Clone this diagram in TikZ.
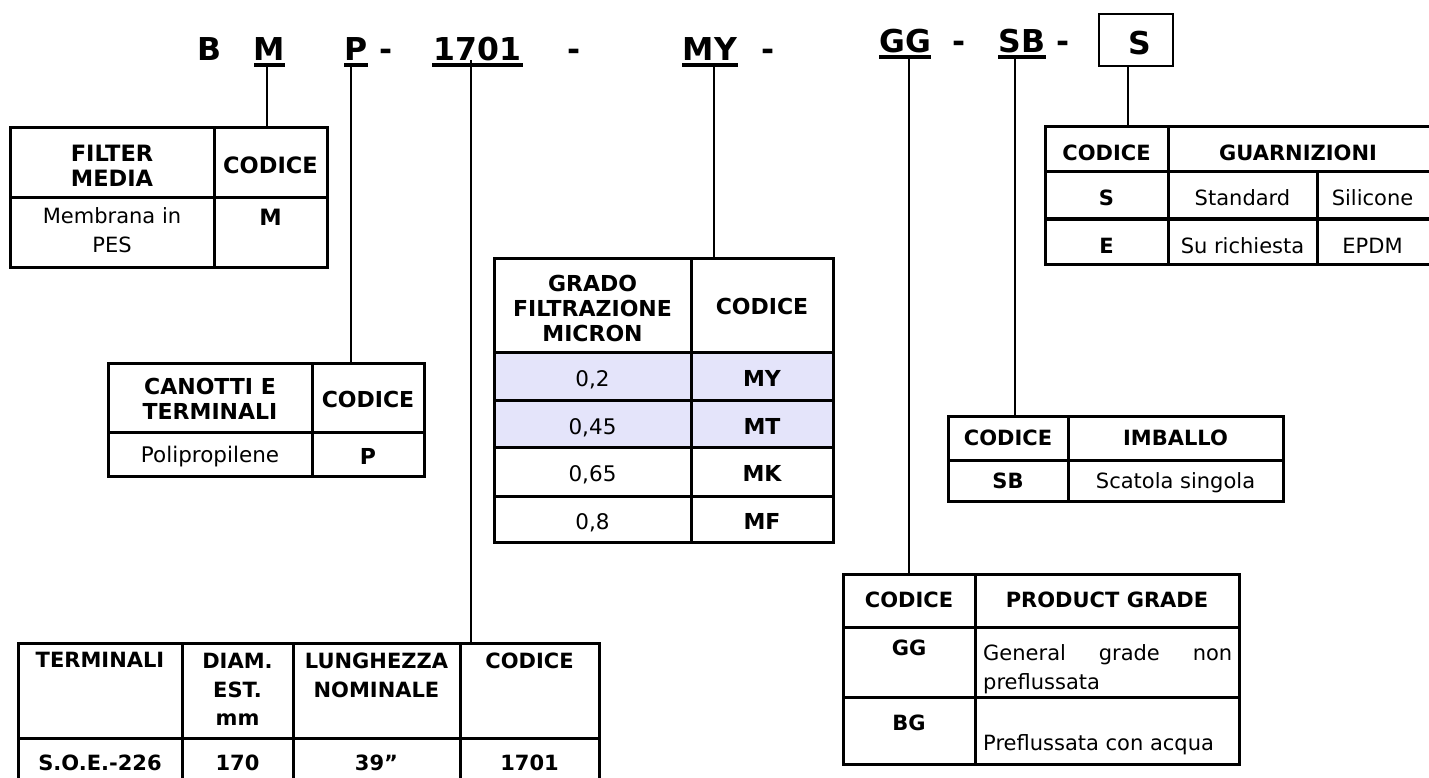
\documentclass[tikz,border=0pt]{standalone}
\usepackage{fontspec}
\setmainfont{DejaVu Sans}
\definecolor{lav}{RGB}{228,228,250}
\tikzset{
  tab/.style={line width=3pt},
  conn/.style={line width=2.4pt},
  uline/.style={line width=3.5pt},
  hdr/.style={font=\fontsize{31.5}{36}\selectfont\bfseries, inner sep=0pt, anchor=base},
  tb/.style={font=\fontsize{21}{25}\selectfont\bfseries, inner sep=0pt, anchor=north, align=center},
  tr/.style={font=\fontsize{21}{25}\selectfont, inner sep=0pt, anchor=north, align=center},
  tbl/.style={font=\fontsize{22.5}{25}\selectfont\bfseries, inner sep=0pt, anchor=north, align=center},
  tbm/.style={font=\fontsize{22}{25}\selectfont\bfseries, inner sep=0pt, anchor=north, align=center},
  trm/.style={font=\fontsize{21.5}{25}\selectfont, inner sep=0pt, anchor=north, align=center},
  tbw/.style={font=\fontsize{21}{28.5}\selectfont\bfseries, inner sep=0pt, anchor=north, align=center},
}
\begin{document}
\begin{tikzpicture}[x=1pt,y=-1pt]
\path[use as bounding box] (0,0) rectangle (1429,778);
\clip (0,0) rectangle (1429,778);
\fill[white] (0,0) rectangle (1429,778);

% ---------- header code ----------
\node[hdr] (hB) at (209.5,61) {B};
\node[hdr] (hM) at (269,61) {M};
\node[hdr] (hP) at (356.5,61) {P};
\node[hdr] (d1) at (386,61) {-};
\node[hdr] (h1701) at (477.5,61) {1701};
\node[hdr] (d2) at (574,61) {-};
\node[hdr] (hMY) at (710,61) {MY};
\node[hdr] (d3) at (768,61) {-};
\node[hdr] (hGG) at (905,53) {GG};
\node[hdr] (d4) at (959.5,53) {-};
\node[hdr] (hSB) at (1022,53) {SB};
\node[hdr] (d5) at (1063.5,53) {-};
\node[hdr] (hS) at (1140,55) {S};
\draw[line width=2.6pt] (1099,14) rectangle (1173,66);

\draw[uline] (254,65) -- (285,65);
\draw[uline] (344,65) -- (368,65);
\draw[uline] (432,65) -- (523,65);
\draw[uline] (682,65) -- (738,65);
\draw[uline] (879,57) -- (931,57);
\draw[uline] (998,57) -- (1046,57);

% connector anchors
\coordinate (uM) at (267,65);
\coordinate (uP) at (351,65);
\coordinate (u1701) at (471,60);
\coordinate (uMY) at (714,65);
\coordinate (uGG) at (909,57);
\coordinate (uSB) at (1015,57);
\coordinate (uS) at (1128,66);
\coordinate (tM) at (267,128);
\coordinate (tP) at (351,363);
\coordinate (t1701) at (471,643);
\coordinate (tMY) at (714,258);
\coordinate (tGG) at (909,574);
\coordinate (tSB) at (1015,416);
\coordinate (tS) at (1128,127);
\draw[conn] (uM) -- (tM);
\draw[conn] (uP) -- (tP);
\draw[conn] (u1701) -- (t1701);
\draw[conn] (uMY) -- (tMY);
\draw[conn] (uGG) -- (tGG);
\draw[conn] (uSB) -- (tSB);
\draw[conn] (uS) -- (tS);

% ---------- FILTER MEDIA ----------
\draw[tab] (10,128) rectangle (327,267);
\draw[tab] (214,128) -- (214,267);
\draw[tab] (10,198) -- (327,198);
\node[tbl] (fm1) at (112,145) {FILTER\\MEDIA};
\node[tbl] (fm2) at (270.5,157) {CODICE};
\node[tr, font=\fontsize{21}{29}\selectfont] (fm3) at (112,207) {Membrana in\\PES};
\node[tbl] (fm4) at (270.5,209) {M};

% ---------- CANOTTI ----------
\draw[tab] (108,363) rectangle (424,476);
\draw[tab] (312,363) -- (312,476);
\draw[tab] (108,432) -- (424,432);
\node[tbm] (ca1) at (210,378) {CANOTTI E\\TERMINALI};
\node[tbm] (ca2) at (368,391) {CODICE};
\node[trm] (ca3) at (210,446) {Polipropilene};
\node[tbm] (ca4) at (368,448) {P};

% ---------- GRADO ----------
\fill[lav] (494,352) rectangle (833,447);
\draw[tab] (494,258) rectangle (833,542);
\draw[tab] (691,258) -- (691,542);
\draw[tab] (494,352) -- (833,352);
\draw[tab] (494,400) -- (833,400);
\draw[tab] (494,447) -- (833,447);
\draw[tab] (494,496) -- (833,496);
\node[tbm] (gr1) at (592.5,275) {GRADO\\FILTRAZIONE\\MICRON};
\node[tbm] (gr2) at (762,298) {CODICE};
\node[trm] (gr3) at (592.5,370) {0,2};
\node[tbm] (gr4) at (762,370) {MY};
\node[trm] (gr5) at (592.5,418) {0,45};
\node[tbm] (gr6) at (762,418) {MT};
\node[trm] (gr7) at (592.5,465) {0,65};
\node[tbm] (gr8) at (762,465) {MK};
\node[trm] (gr9) at (592.5,513) {0,8};
\node[tbm] (gr10) at (762,513) {MF};

% ---------- GUARNIZIONI ----------
\draw[tab] (1045,127) rectangle (1432,264);
\draw[tab] (1168,127) -- (1168,264);
\draw[tab] (1317,172) -- (1317,264);
\draw[tab] (1045,172) -- (1432,172);
\draw[tab] (1045,219) -- (1432,219);
\node[tb] (gu1) at (1106.5,145) {CODICE};
\node[tb] (gu2) at (1298,145) {GUARNIZIONI};
\node[tb] (gu3) at (1106.5,190) {S};
\node[tr] (gu4) at (1242.5,189) {Standard};
\node[tr] (gu5) at (1372.5,189) {Silicone};
\node[tb] (gu6) at (1106.5,238) {E};
\node[tr] (gu7) at (1242.5,237) {Su richiesta};
\node[tr] (gu8) at (1372.5,238) {EPDM};

% ---------- IMBALLO ----------
\draw[tab] (948,416) rectangle (1283,501);
\draw[tab] (1068,416) -- (1068,501);
\draw[tab] (948,460) -- (1283,460);
\node[tb] (im1) at (1008,430) {CODICE};
\node[tb] (im2) at (1175.5,430) {IMBALLO};
\node[tb] (im3) at (1008,473) {SB};
\node[tr] (im4) at (1175.5,472) {Scatola singola};

% ---------- PRODUCT GRADE ----------
\draw[tab] (843,574) rectangle (1239,764);
\draw[tab] (975,574) -- (975,764);
\draw[tab] (843,627) -- (1239,627);
\draw[tab] (843,697) -- (1239,697);
\node[tb] (pg1) at (909,592) {CODICE};
\node[tb] (pg2) at (1107,592) {PRODUCT GRADE};
\node[tb] (pg3) at (909,640) {GG};
\node[font=\fontsize{21}{29}\selectfont, inner sep=0pt, anchor=north west,
      text width=249pt, align=justify] (pg4) at (983,644)
      {\tolerance=10000 General grade non \mbox{preflussata}};
\node[tb] (pg5) at (909,715) {BG};
\node[tr, anchor=north west] (pg6) at (983,734) {Preflussata con acqua};

% ---------- TERMINALI ----------
\draw[tab] (18,643) rectangle (599,784);
\draw[tab] (182,643) -- (182,784);
\draw[tab] (293,643) -- (293,784);
\draw[tab] (460,643) -- (460,784);
\draw[tab] (18,738) -- (599,738);
\node[tbw] (te1) at (100,652) {TERMINALI};
\node[tbw] (te2) at (237.5,653) {DIAM.\\EST.\\mm};
\node[tbw] (te3) at (376.5,653) {LUNGHEZZA\\NOMINALE};
\node[tbw] (te4) at (529.5,653) {CODICE};
\node[tb] (te5) at (100,755) {S.O.E.-226};
\node[tb] (te6) at (237.5,755) {170};
\node[tb] (te7) at (376.5,755) {39”};
\node[tb] (te8) at (529.5,755) {1701};
\end{tikzpicture}
\end{document}
